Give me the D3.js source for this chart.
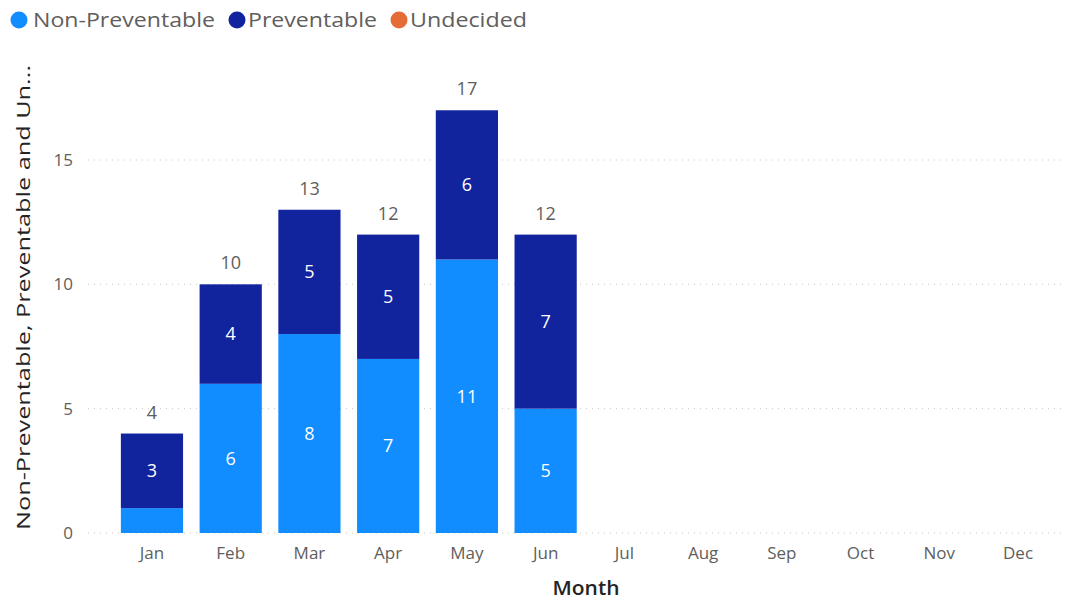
<!DOCTYPE html>
<html><head><meta charset="utf-8">
<script src="https://cdn.jsdelivr.net/npm/d3@7"></script>
<style>body{margin:0;background:#fff;} text{font-family:"Open Sans","Segoe UI",sans-serif;}</style>
</head><body>
<svg id="c" width="1068" height="601"></svg>
<script>
const months = ["Jan","Feb","Mar","Apr","May","Jun","Jul","Aug","Sep","Oct","Nov","Dec"];
const nonPreventable = [1,6,8,7,11,5,null,null,null,null,null,null];
const preventable = [3,4,5,5,6,7,null,null,null,null,null,null];
const undecided = [0,0,0,0,0,0,null,null,null,null,null,null];
const seriesNames = ["Non-Preventable","Preventable","Undecided"];
const colors = ["#118DFF","#12239E","#E66C37"];
const yTicks = [0,5,10,15];

const svg = d3.select("#c");
const x = d3.scaleBand().domain(months).range([112.6,1057.4]).paddingInner(0.21).paddingOuter(0.105);
const y = d3.scaleLinear().domain([0,15]).range([533,160]);

// gridlines
svg.append("g").selectAll("line").data(yTicks).join("line")
  .attr("x1",88).attr("x2",1066).attr("y1",d=>y(d)).attr("y2",d=>y(d))
  .attr("stroke","#c8c6c4").attr("stroke-width",1).attr("stroke-dasharray","1,5");

// y axis
const ya = svg.append("g").attr("transform","translate(73,0)")
  .call(d3.axisLeft(y).tickValues(yTicks).tickSize(0).tickPadding(0));
ya.select(".domain").remove();
ya.selectAll("text").attr("fill","#605e5c").style("font-size","17px").style("font-family","'Open Sans',sans-serif");

// x axis
const xa = svg.append("g").attr("transform","translate(0,547)")
  .call(d3.axisBottom(x).tickSize(0).tickPadding(0));
xa.select(".domain").remove();
xa.selectAll("text").attr("fill","#605e5c").attr("dy","0.71em").style("font-size","17px").style("font-family","'Open Sans',sans-serif");

// stacks
const rows = months.map((m,i)=>({m, np:nonPreventable[i]||0, p:preventable[i]||0, u:undecided[i]||0}));
const stack = d3.stack().keys(["np","p","u"])(rows);
stack.forEach((s,si)=>{
  svg.append("g").selectAll("rect").data(s.filter(d=>d[1]-d[0]>0)).join("rect")
    .attr("x",d=>x(d.data.m)).attr("width",x.bandwidth())
    .attr("y",d=>y(d[1])).attr("height",d=>y(d[0])-y(d[1]))
    .attr("fill",colors[si]);
  svg.append("g").selectAll("text").data(s.filter(d=>d[1]-d[0]>=3)).join("text")
    .attr("x",d=>x(d.data.m)+x.bandwidth()/2).attr("y",d=>(y(d[0])+y(d[1]))/2)
    .attr("text-anchor","middle").attr("dy","0.35em").attr("fill","#fff")
    .style("font-size","18px").text(d=>d[1]-d[0]);
});
// totals
svg.append("g").selectAll("text").data(rows.filter(r=>r.np+r.p+r.u>0)).join("text")
  .attr("x",d=>x(d.m)+x.bandwidth()/2).attr("y",d=>y(d.np+d.p+d.u)-15)
  .attr("text-anchor","middle").attr("fill","#605e5c").style("font-size","18px")
  .text(d=>d.np+d.p+d.u);

// axis titles
svg.append("text").attr("x",586).attr("y",595).attr("text-anchor","middle")
  .attr("fill","#252423").style("font-size","20px").style("font-weight","600")
  .attr("textLength",67).attr("lengthAdjust","spacingAndGlyphs").text("Month");
svg.append("text").attr("transform","translate(30,297.5) rotate(-90)").attr("text-anchor","middle")
  .attr("fill","#252423").style("font-size","19px")
  .attr("textLength",465).attr("lengthAdjust","spacingAndGlyphs")
  .text("Non-Preventable, Preventable and Un...");

// legend
const legCx = [19,237,399];
const legTx = [33,248,410];
const legW = [182,129,117];
seriesNames.forEach((n,i)=>{
  svg.append("circle").attr("cx",legCx[i]).attr("cy",20).attr("r",8.5).attr("fill",colors[i]);
  svg.append("text").attr("x",legTx[i]).attr("y",20).attr("dy","0.35em")
    .attr("fill","#605e5c").style("font-size","20px")
    .attr("textLength",legW[i]).attr("lengthAdjust","spacingAndGlyphs").text(n);
});
</script>
</body></html>
